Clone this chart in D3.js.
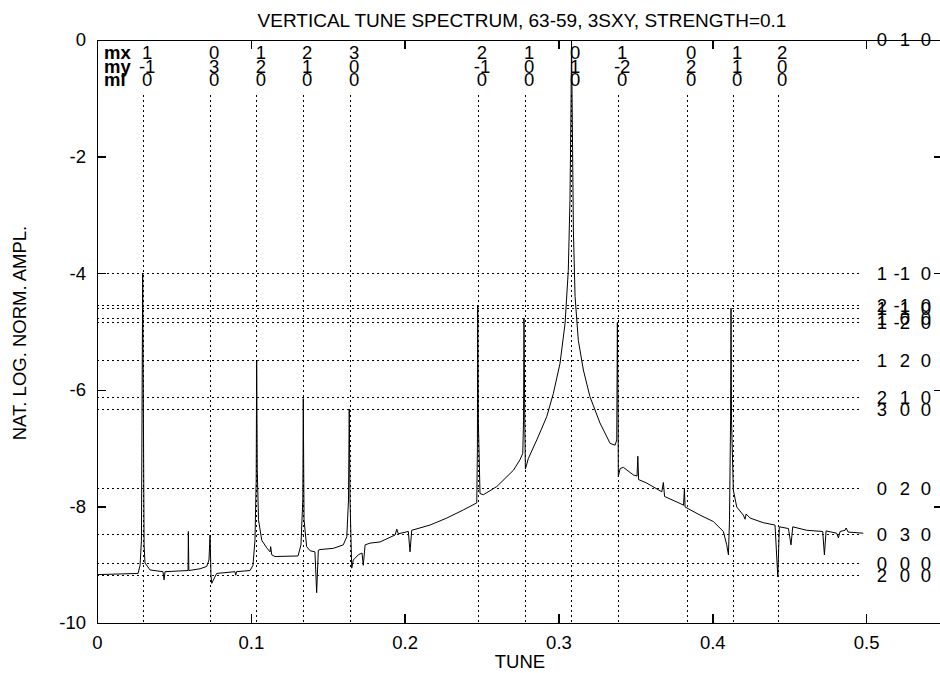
<!DOCTYPE html>
<html lang="en">
<head>
<meta charset="utf-8">
<title>Vertical tune spectrum</title>
<script src="https://cdn.jsdelivr.net/npm/d3@7"></script>
<style>
  body { margin: 0; background: #fff; }
  text { font-family: "Liberation Sans", Arial, sans-serif; font-size: 18.5px; fill: #000; }
  .grid { stroke: #000; stroke-width: 1; stroke-dasharray: 2,3; fill: none; shape-rendering: crispEdges; }
  .axis path, .axis line { stroke: #000; stroke-width: 1.5; shape-rendering: crispEdges; }
  .curve { stroke: #000; stroke-width: 1; fill: none; }
</style>
</head>
<body>
<div id="viz"></div>
<script>
// DATA
var titleText = "VERTICAL TUNE SPECTRUM, 63-59, 3SXY, STRENGTH=0.1";
var xTicks = [0, 0.1, 0.2, 0.3, 0.4, 0.5];
var yTicks = [0, -2, -4, -6, -8, -10];

// resonance lines (tune) and their mx / my / ml labels
var resTunes = [0.0300, 0.0735, 0.1040, 0.1340, 0.1645, 0.2477, 0.2783, 0.3082, 0.3388, 0.3836, 0.4135, 0.4428];
var resMx = [1, 0, 1, 2, 3, 2, 1, 0, 1, 0, 1, 2];
var resMy = [-1, 3, 2, 1, 0, -1, 0, 1, -2, 2, 1, 0];
var resMl = [0, 0, 0, 0, 0, 0, 0, 0, 0, 0, 0, 0];

// amplitude lines and their labels on the right
var ampLevels = [0, -4.00, -4.56, -4.61, -4.77, -4.85, -5.50, -6.13, -6.33, -7.69, -8.48, -8.98, -9.19];
var ampLabels = [[0, 1, 0], [1, -1, 0], [2, -1, 0], [1, 1, 0], [1, 0, 0], [1, -2, 0], [1, 2, 0],
                 [2, 1, 0], [3, 0, 0], [0, 2, 0], [0, 3, 0], [0, 0, 0], [2, 0, 0]];

// spectrum [tune, nat. log. norm. ampl.]
var spectrum = [
  [0.0000,-9.17],[0.0267,-9.15],[0.0280,-9.01],[0.0289,-8.58],[0.0297,-4.00],[0.0306,-8.66],
  [0.0312,-8.97],[0.0345,-9.09],[0.0429,-9.12],[0.0436,-9.26],[0.0442,-9.12],[0.0592,-9.10],
  [0.0594,-8.43],[0.0597,-9.10],[0.0670,-9.07],[0.0713,-9.03],[0.0728,-8.92],[0.0735,-8.49],
  [0.0741,-9.18],[0.0746,-9.32],[0.0778,-9.15],[0.0897,-9.12],[0.0902,-9.18],[0.0907,-9.12],
  [0.0995,-9.10],[0.1014,-9.01],[0.1027,-8.58],[0.1035,-7.55],[0.1038,-5.50],[0.1042,-7.38],
  [0.1050,-8.23],[0.1071,-8.58],[0.1103,-8.71],[0.1125,-8.78],[0.1129,-8.69],[0.1136,-8.83],
  [0.1157,-8.86],[0.1307,-8.85],[0.1326,-8.66],[0.1338,-7.89],[0.1341,-6.15],[0.1346,-8.23],
  [0.1363,-8.69],[0.1385,-8.76],[0.1417,-8.78],[0.1428,-9.48],[0.1439,-8.75],[0.1450,-8.74],
  [0.1536,-8.72],[0.1601,-8.66],[0.1624,-8.52],[0.1635,-7.89],[0.1640,-6.33],[0.1645,-7.89],
  [0.1656,-9.06],[0.1666,-8.92],[0.1699,-8.83],[0.1723,-8.80],[0.1731,-9.01],[0.1743,-8.66],
  [0.1775,-8.63],[0.1840,-8.61],[0.1938,-8.49],[0.1949,-8.39],[0.1959,-8.47],[0.2024,-8.43],
  [0.2035,-8.78],[0.2046,-8.41],[0.2165,-8.32],[0.2274,-8.20],[0.2382,-8.06],[0.2469,-7.94],
  [0.2473,-7.03],[0.2475,-4.56],[0.2479,-6.52],[0.2490,-7.78],[0.2512,-7.80],[0.2599,-7.66],
  [0.2707,-7.38],[0.2750,-7.20],[0.2768,-7.09],[0.2773,-6.52],[0.2776,-4.77],[0.2781,-6.52],
  [0.2785,-7.36],[0.2804,-7.18],[0.2859,-6.86],[0.2924,-6.46],[0.2967,-6.06],[0.3010,-5.55],
  [0.3043,-4.86],[0.3064,-3.95],[0.3075,-2.74],[0.3082,-1.03],[0.3085,0.00],[0.3092,-1.89],
  [0.3097,-3.26],[0.3108,-4.40],[0.3129,-5.15],[0.3162,-5.66],[0.3205,-6.12],[0.3270,-6.57],
  [0.3336,-6.92],[0.3368,-6.95],[0.3379,-6.86],[0.3383,-4.85],[0.3388,-6.52],[0.3389,-7.49],
  [0.3401,-7.35],[0.3422,-7.33],[0.3487,-7.46],[0.3511,-7.48],[0.3516,-7.14],[0.3521,-7.54],
  [0.3574,-7.60],[0.3672,-7.75],[0.3682,-7.59],[0.3690,-7.83],[0.3791,-7.95],[0.3813,-7.98],
  [0.3819,-7.69],[0.3823,-8.01],[0.3921,-8.15],[0.4007,-8.26],[0.4072,-8.43],[0.4094,-8.66],
  [0.4105,-8.83],[0.4112,-8.23],[0.4119,-6.52],[0.4122,-4.60],[0.4125,-6.52],[0.4137,-7.72],
  [0.4159,-8.01],[0.4202,-8.15],[0.4213,-8.22],[0.4220,-8.13],[0.4246,-8.20],[0.4332,-8.28],
  [0.4408,-8.32],[0.4426,-9.21],[0.4436,-8.35],[0.4495,-8.38],[0.4512,-8.66],[0.4523,-8.35],
  [0.4614,-8.41],[0.4718,-8.43],[0.4729,-8.83],[0.4740,-8.42],[0.4809,-8.46],[0.4820,-8.54],
  [0.4831,-8.43],[0.4863,-8.41],[0.4870,-8.37],[0.4883,-8.44],[0.4982,-8.46]
];

// Dimensions
var w = 940, h = 673;
var margin = {top: 40, right: -3, bottom: 50, left: 97};

var svg = d3.select("#viz").append("svg")
  .attr("width", w)
  .attr("height", h);

// SCALES
var x = d3.scaleLinear().domain([0, 0.55]).range([margin.left, w - margin.right]);
var y = d3.scaleLinear().domain([-10, 0]).range([h - margin.bottom, margin.top]);

// plain hyphen minus, like the original plot
var fmt = function(d){ return String(+(+d).toFixed(1)); };

// grid: amplitude levels
svg.append("g").selectAll("line")
  .data(ampLevels)
  .enter().append("line")
  .attr("class", "grid")
  .attr("x1", x(0)).attr("x2", x(0.4975))
  .attr("y1", function(d){ return y(d); })
  .attr("y2", function(d){ return y(d); });

// grid: resonance tunes
svg.append("g").selectAll("line")
  .data(resTunes)
  .enter().append("line")
  .attr("class", "grid")
  .attr("x1", function(d){ return x(d); })
  .attr("x2", function(d){ return x(d); })
  .attr("y1", y(-0.95)).attr("y2", y(-10));

// AXES (ticks inward)
svg.append("g").attr("class", "axis")
  .attr("transform", "translate(0," + y(-10) + ")")
  .call(d3.axisBottom(x).tickValues(xTicks).tickSize(-9).tickSizeOuter(0).tickPadding(13).tickFormat(fmt))
  .call(function(g){ g.selectAll("text").attr("font-size", null).attr("font-family", null); });

svg.append("g").attr("class", "axis")
  .attr("transform", "translate(0," + y(0) + ")")
  .call(d3.axisTop(x).tickValues(xTicks).tickSize(-9).tickSizeOuter(0).tickFormat(""));

svg.append("g").attr("class", "axis")
  .attr("transform", "translate(" + x(0) + ",0)")
  .call(d3.axisLeft(y).tickValues(yTicks).tickSize(-9).tickSizeOuter(0).tickPadding(11).tickFormat(fmt))
  .call(function(g){ g.selectAll("text").attr("font-size", null).attr("font-family", null); });

svg.append("g").attr("class", "axis")
  .attr("transform", "translate(" + x(0.55) + ",0)")
  .call(d3.axisRight(y).tickValues(yTicks).tickSize(-9).tickSizeOuter(0).tickFormat(""));

svg.selectAll(".axis .domain").attr("stroke", "#000");

// SPECTRUM
var line = d3.line()
  .x(function(d){ return x(d[0]); })
  .y(function(d){ return y(d[1]); });

svg.append("path")
  .datum(spectrum)
  .attr("class", "curve")
  .attr("d", line);

// top labels
var rowY = [59, 72.5, 86];
var rowNames = ["mx", "my", "ml"];
var rowVals = [resMx, resMy, resMl];

rowNames.forEach(function(name, r){
  svg.append("text")
    .attr("x", 104).attr("y", rowY[r])
    .style("font-weight", "bold")
    .text(name);
  svg.append("g").selectAll("text")
    .data(resTunes)
    .enter().append("text")
    .attr("x", function(d){ return x(d) + 4; })
    .attr("y", rowY[r])
    .attr("text-anchor", "middle")
    .text(function(d, i){ return rowVals[r][i]; });
});

// right labels
var colX = [887, 910, 931];
ampLevels.forEach(function(v, i){
  ampLabels[i].forEach(function(n, c){
    svg.append("text")
      .attr("x", colX[c]).attr("y", y(v))
      .attr("dy", "0.35em")
      .attr("text-anchor", "end")
      .text(n);
  });
});

// TITLE & AXIS LABELS
svg.append("text")
  .attr("x", 522).attr("y", 26.5)
  .attr("text-anchor", "middle")
  .style("font-size", "19px")
  .text(titleText);

svg.append("text")
  .attr("x", (x(0) + x(0.55)) / 2).attr("y", 668)
  .attr("text-anchor", "middle")
  .text("TUNE");

svg.append("text")
  .attr("transform", "translate(26," + 333 + ") rotate(-90)")
  .attr("text-anchor", "middle")
  .text("NAT. LOG. NORM. AMPL.");
</script>
</body>
</html>
